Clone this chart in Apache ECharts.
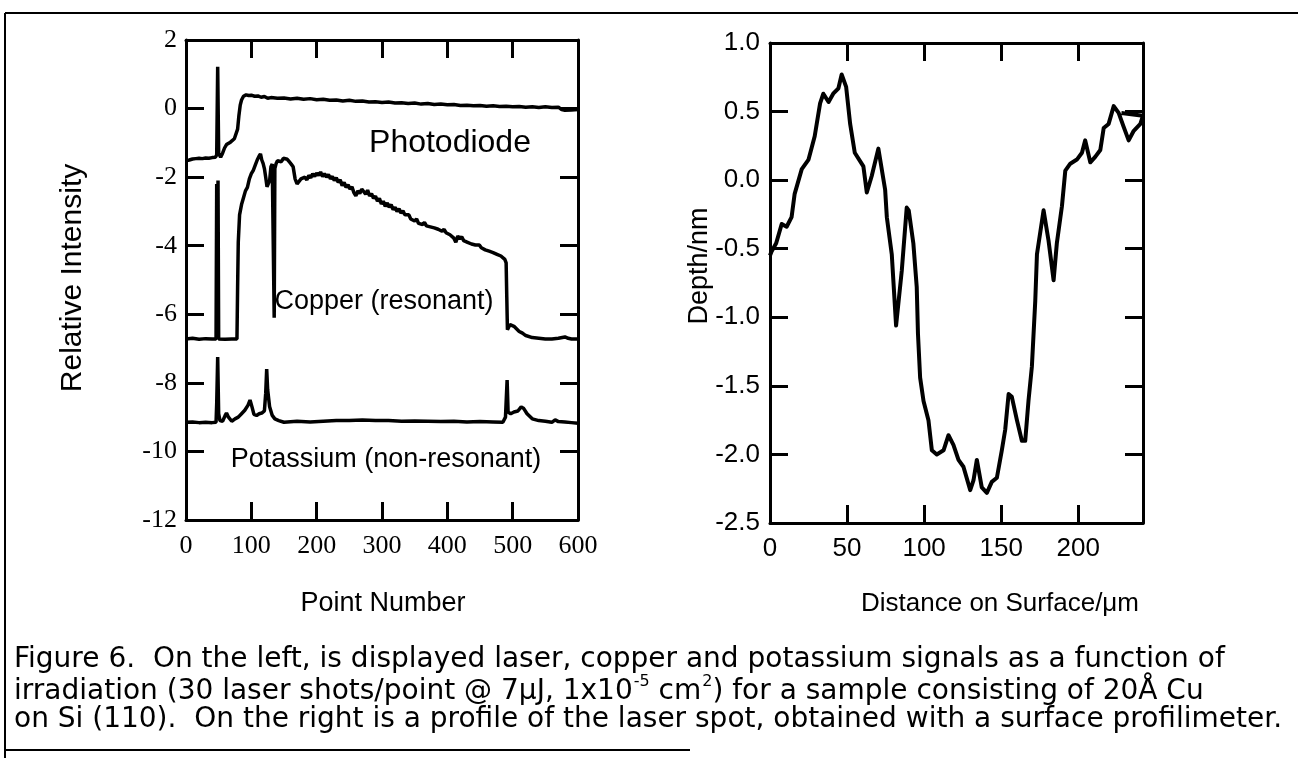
<!DOCTYPE html>
<html>
<head>
<meta charset="utf-8">
<script src="https://cdn.jsdelivr.net/npm/echarts@6/dist/echarts.min.js"></script>
<style>
html, body { margin: 0; padding: 0; background: #fff; }
#fig { width: 1298px; height: 758px; }
</style>
</head>
<body>
<div id="fig"></div>
<script>
// left panel: signals vs point number  [point, relative intensity]
var photodiode = [[0,-1.52],[5,-1.5],[10,-1.47],[15,-1.46],[20,-1.45],[25,-1.46],[30,-1.44],[35,-1.45],[40,-1.43],[45,-1.42],[47,-1.35],[48.5,1.22],[50,-1.3],[53,-1.42],[56,-1.3],[59,-1.15],[62,-1.05],[65,-1.0],[68,-0.98],[71,-0.95],[74,-0.88],[77,-0.85],[79,-0.6],[81,-0.2],[83,0.1],[85,0.25],[88,0.36],[92,0.4],[96,0.38],[100,0.39],[105,0.36],[110,0.37],[115,0.33],[120,0.35],[125,0.3],[130,0.32],[140,0.3],[150,0.31],[160,0.28],[170,0.3],[180,0.27],[190,0.29],[200,0.26],[210,0.27],[220,0.24],[230,0.25],[240,0.22],[250,0.24],[260,0.21],[270,0.22],[280,0.19],[290,0.2],[300,0.18],[310,0.19],[320,0.16],[330,0.17],[340,0.15],[350,0.16],[360,0.13],[370,0.15],[380,0.12],[390,0.13],[400,0.11],[410,0.12],[420,0.09],[430,0.1],[440,0.08],[450,0.09],[460,0.07],[470,0.08],[480,0.06],[490,0.07],[500,0.05],[510,0.06],[520,0.04],[530,0.05],[540,0.03],[550,0.05],[560,0.03],[570,0.04],[575,-0.03],[580,-0.05],[590,-0.04],[600,-0.03]];

var copper = [[0,-6.72],[10,-6.7],[20,-6.73],[30,-6.71],[40,-6.72],[46,-6.72],[47,-2.2],[48,-6.7],[49,-2.1],[50,-6.72],[60,-6.73],[70,-6.72],[78,-6.72],[79,-5.2],[80,-3.9],[82,-3.1],[85,-2.8],[88,-2.6],[91,-2.4],[94,-2.3],[97,-2.05],[100,-1.9],[103,-1.8],[106,-1.65],[109,-1.5],[112,-1.38],[114,-1.32],[116,-1.5],[118,-1.6],[120,-1.75],[122,-2.0],[124,-2.28],[126,-2.3],[128,-2.1],[130,-1.7],[132,-1.62],[134,-1.65],[135,-6.1],[136,-1.75],[138,-1.6],[140,-1.52],[143,-1.48],[146,-1.55],[149,-1.45],[152,-1.5],[155,-1.48],[158,-1.55],[161,-1.62],[164,-1.7],[167,-2.05],[170,-2.2],[173,-2.15],[176,-2.05],[179,-2.1],[182,-2.0],[185,-2.08],[188,-1.95],[191,-2.02],[194,-1.9],[197,-1.98],[200,-1.88],[203,-1.95],[206,-1.85],[209,-1.98],[212,-1.9],[215,-2.0],[218,-1.92],[221,-2.05],[224,-1.98],[227,-2.1],[230,-2.02],[233,-2.15],[236,-2.08],[239,-2.25],[242,-2.15],[245,-2.3],[248,-2.22],[251,-2.35],[254,-2.28],[257,-2.45],[260,-2.55],[263,-2.4],[266,-2.48],[269,-2.35],[272,-2.42],[275,-2.5],[278,-2.38],[281,-2.55],[284,-2.48],[287,-2.62],[290,-2.55],[293,-2.7],[296,-2.62],[299,-2.78],[302,-2.7],[305,-2.85],[308,-2.75],[311,-2.88],[314,-2.8],[317,-2.95],[320,-2.88],[323,-3.0],[326,-2.92],[329,-3.05],[332,-2.98],[335,-3.1],[338,-3.15],[341,-3.1],[344,-3.22],[347,-3.18],[350,-3.28],[353,-3.22],[356,-3.35],[359,-3.3],[362,-3.38],[365,-3.32],[368,-3.42],[371,-3.38],[374,-3.45],[377,-3.4],[380,-3.48],[383,-3.44],[386,-3.52],[389,-3.48],[392,-3.58],[395,-3.52],[398,-3.62],[401,-3.58],[404,-3.68],[407,-3.64],[410,-3.78],[413,-3.9],[416,-3.72],[419,-3.8],[422,-3.74],[425,-3.85],[428,-3.8],[431,-3.9],[434,-3.86],[437,-3.95],[440,-3.92],[443,-3.98],[446,-4.02],[449,-3.98],[452,-4.06],[455,-4.04],[458,-4.12],[461,-4.08],[464,-4.16],[467,-4.14],[470,-4.2],[473,-4.18],[476,-4.25],[479,-4.22],[482,-4.3],[485,-4.34],[488,-4.4],[490,-4.5],[491,-5.5],[492,-6.45],[494,-6.5],[496,-6.3],[499,-6.25],[502,-6.35],[505,-6.4],[510,-6.5],[515,-6.55],[520,-6.62],[530,-6.68],[540,-6.7],[550,-6.72],[560,-6.72],[570,-6.7],[580,-6.66],[585,-6.7],[590,-6.72],[600,-6.72]];

var potassium = [[0,-9.15],[10,-9.14],[20,-9.16],[30,-9.15],[40,-9.16],[46,-9.15],[47,-8.6],[48.5,-7.25],[50,-8.9],[52,-9.1],[56,-9.12],[60,-8.95],[62,-8.88],[65,-9.0],[70,-9.12],[75,-9.05],[80,-9.0],[85,-8.9],[90,-8.8],[95,-8.65],[98,-8.5],[101,-8.7],[104,-8.92],[108,-8.95],[112,-8.9],[116,-8.88],[120,-8.82],[122,-8.3],[123.5,-7.6],[125,-8.2],[128,-8.7],[132,-8.95],[136,-9.05],[142,-9.1],[150,-9.15],[170,-9.12],[190,-9.14],[210,-9.12],[230,-9.1],[250,-9.1],[270,-9.08],[290,-9.1],[310,-9.1],[330,-9.12],[350,-9.11],[370,-9.12],[390,-9.13],[410,-9.12],[430,-9.14],[450,-9.13],[470,-9.14],[485,-9.15],[489,-9.0],[491.5,-7.92],[493,-8.85],[497,-8.9],[502,-8.85],[508,-8.82],[513,-8.7],[517,-8.75],[522,-8.9],[530,-9.05],[540,-9.1],[550,-9.12],[560,-9.15],[565,-9.08],[570,-9.13],[580,-9.14],[590,-9.16],[600,-9.18]];

// right panel: laser spot profile  [distance um, depth nm]
var profile = [[0,-0.55],[1,-0.52],[4,-0.46],[7.6,-0.32],[10.8,-0.34],[14,-0.27],[16,-0.1],[20.6,0.08],[25,0.15],[29,0.32],[32.5,0.56],[34.6,0.63],[38,0.57],[41,0.63],[44.4,0.67],[46.5,0.77],[49.4,0.68],[52,0.41],[55,0.2],[60.6,0.1],[62.8,-0.09],[66,0.03],[70.3,0.23],[74.7,-0.07],[75.8,-0.27],[79,-0.54],[81.8,-1.06],[85.5,-0.66],[88.7,-0.2],[90,-0.22],[93,-0.46],[95.2,-0.78],[96,-1.12],[97.4,-1.44],[99.6,-1.61],[102.8,-1.75],[105,-1.97],[108.2,-2.0],[112.6,-1.97],[115.8,-1.86],[119,-1.93],[122.3,-2.04],[125.5,-2.09],[129.9,-2.26],[132,-2.19],[134.2,-2.04],[137.4,-2.24],[140.7,-2.28],[143.9,-2.2],[147.2,-2.17],[150.4,-1.97],[152.6,-1.82],[154.8,-1.56],[156.9,-1.58],[160.2,-1.75],[163.4,-1.9],[165.6,-1.9],[167.7,-1.61],[169.9,-1.36],[172.1,-0.88],[173.2,-0.54],[177.5,-0.22],[180.7,-0.44],[184,-0.73],[186.1,-0.46],[189.4,-0.19],[191.6,0.07],[194.8,0.12],[199.1,0.15],[202.4,0.2],[204.5,0.29],[207.8,0.13],[211,0.17],[214.3,0.22],[216.5,0.38],[219.7,0.41],[223,0.54],[226.2,0.49],[229.4,0.39],[232.7,0.29],[236,0.36],[240.3,0.41],[242,0.47],[241,0.48],[228,0.49]];

var captionLines = [
    'Figure 6.  On the left, is displayed laser, copper and potassium signals as a function of',
    '{n|irradiation (30 laser shots/point @ 7\u03bcJ, 1x10}{s|-5}{n| cm}{s|2}{n|) for a sample consisting of 20\u00c5 Cu}',
    'on Si (110).  On the right is a profile of the laser spot, obtained with a surface profilimeter.'
];

var SANS = 'Liberation Sans, Arial, sans-serif';
var SERIF = 'Liberation Serif, Times New Roman, serif';
var CAP = 'DejaVu Sans, Liberation Sans, sans-serif';

function axisBox(extra) {
    var a = {
        type: 'value',
        axisLine: { show: true, onZero: false, lineStyle: { color: '#000', width: 3 } },
        axisTick: { show: true, inside: true, length: 18, lineStyle: { color: '#000', width: 3 } },
        splitLine: { show: false },
        axisLabel: { show: false }
    };
    for (var k in extra) a[k] = extra[k];
    return a;
}

function txt(x, y, s, size, rot) {
    return {
        type: 'text', x: x, y: y, rotation: rot || 0,
        style: { text: s, fill: '#000', font: size + 'px ' + SANS, align: 'center', verticalAlign: 'middle' }
    };
}

var figC = echarts.init(document.getElementById('fig'));
var fig = {
    backgroundColor: '#fff',
    animation: false,
    grid: [
        { left: 186, top: 40, width: 392, height: 480 },
        { left: 770, top: 43, width: 373, height: 480 }
    ],
    xAxis: [
        axisBox({ gridIndex: 0, position: 'bottom', min: 0, max: 600, interval: 100,
            axisLabel: { show: true, margin: 13, color: '#000', fontFamily: SERIF, fontSize: 26 } }),
        axisBox({ gridIndex: 0, position: 'top', min: 0, max: 600, interval: 100 }),
        axisBox({ gridIndex: 1, position: 'bottom', min: 0, max: 242, interval: 50,
            axisLabel: { show: true, margin: 13, color: '#000', fontFamily: SANS, fontSize: 26,
                formatter: function (v) { return v % 50 === 0 ? String(v) : ''; } } }),
        axisBox({ gridIndex: 1, position: 'top', min: 0, max: 242, interval: 50 })
    ],
    yAxis: [
        axisBox({ gridIndex: 0, position: 'left', min: -12, max: 2, interval: 2,
            axisLabel: { show: true, margin: 9, color: '#000', fontFamily: SERIF, fontSize: 26 } }),
        axisBox({ gridIndex: 0, position: 'right', min: -12, max: 2, interval: 2 }),
        axisBox({ gridIndex: 1, position: 'left', min: -2.5, max: 1, interval: 0.5,
            axisLabel: { show: true, margin: 10, color: '#000', fontFamily: SANS, fontSize: 26,
                formatter: function (v) { return v.toFixed(1); } } }),
        axisBox({ gridIndex: 1, position: 'right', min: -2.5, max: 1, interval: 0.5 })
    ],
    series: [
        { name: 'Photodiode', type: 'line', xAxisIndex: 0, yAxisIndex: 0, data: photodiode,
          showSymbol: false, lineStyle: { color: '#000', width: 3.5 } },
        { name: 'Copper (resonant)', type: 'line', xAxisIndex: 0, yAxisIndex: 0, data: copper,
          showSymbol: false, lineStyle: { color: '#000', width: 3.5 } },
        { name: 'Potassium (non-resonant)', type: 'line', xAxisIndex: 0, yAxisIndex: 0, data: potassium,
          showSymbol: false, lineStyle: { color: '#000', width: 3.5 } },
        { name: 'Profile', type: 'line', xAxisIndex: 2, yAxisIndex: 2, data: profile,
          showSymbol: false, lineStyle: { color: '#000', width: 4, join: 'round' } }
    ],
    graphic: [
        // page frame
        { type: 'line', shape: { x1: 5, y1: 13, x2: 1298, y2: 13 }, style: { stroke: '#000', lineWidth: 2 } },
        { type: 'line', shape: { x1: 5, y1: 13, x2: 5, y2: 758 }, style: { stroke: '#000', lineWidth: 2 } },
        { type: 'line', shape: { x1: 5, y1: 750, x2: 690, y2: 750 }, style: { stroke: '#000', lineWidth: 2 } },
        // panel annotations
        txt(450, 143, 'Photodiode', 32),
        txt(384, 302, 'Copper (resonant)', 27),
        txt(386, 460, 'Potassium (non-resonant)', 27),
        // axis names
        txt(73, 278, 'Relative Intensity', 30, Math.PI / 2),
        txt(700, 266, 'Depth/nm', 27, Math.PI / 2),
        txt(383, 604, 'Point Number', 27),
        txt(1000, 604, 'Distance on Surface/\u03bcm', 26),
        // caption
        { type: 'text', x: 14, y: 660, style: { text: captionLines[0], fill: '#000', font: '28px ' + CAP, verticalAlign: 'middle' } },
        { type: 'text', x: 14, y: 690, style: { text: captionLines[1], fill: '#000', verticalAlign: 'middle',
            rich: {
                n: { fontSize: 28, fontFamily: CAP, lineHeight: 32, verticalAlign: 'bottom' },
                s: { fontSize: 16, fontFamily: CAP, lineHeight: 32, verticalAlign: 'top', padding: [0, 0, 0, 1] }
            } } },
        { type: 'text', x: 14, y: 720, style: { text: captionLines[2], fill: '#000', font: '28px ' + CAP, verticalAlign: 'middle' } }
    ]
};
figC.setOption(fig);
</script>
</body>
</html>
